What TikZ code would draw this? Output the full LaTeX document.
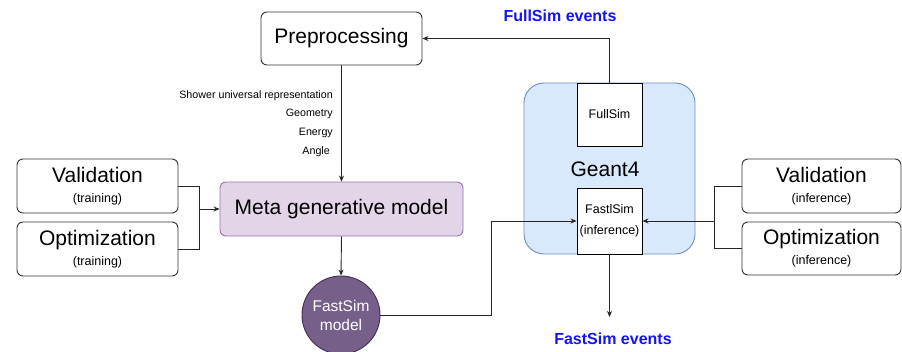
\documentclass[tikz,border=0pt]{standalone}
\usepackage{fontspec}
\setmainfont{Liberation Sans}
\usetikzlibrary{arrows.meta,calc}
\definecolor{metafill}{HTML}{E1D5E7}
\definecolor{metadraw}{HTML}{9673A6}
\definecolor{circfill}{HTML}{76608A}
\definecolor{circdraw}{HTML}{432D57}
\definecolor{gfill}{HTML}{DAE8FC}
\definecolor{gdraw}{HTML}{6C8EBF}
\definecolor{evblue}{HTML}{1414F0}
\newcommand{\bigtxt}{\fontsize{21}{24}\selectfont}
\newcommand{\subtxt}{\fontsize{12.5}{24}\selectfont}
\newcommand{\smtxt}{\fontsize{12.5}{21}\selectfont}
\newcommand{\lbltxt}{\fontsize{10.7}{12}\selectfont}
\newcommand{\evtxt}{\fontsize{16}{18}\selectfont\bfseries}
\begin{document}
\begin{tikzpicture}[x=1pt,y=-1pt,
  arr/.style={draw=black!85,line width=0.9pt,-{Stealth[length=6pt,width=5pt]}},
  ln/.style={draw=black!85,line width=0.9pt},
  rbox/.style={draw=black!80,line width=0.9pt,rounded corners=6pt,fill=white,inner sep=0pt,align=center},
  twol/.style={rbox,font=\bigtxt},
  sqbox/.style={draw=black,line width=0.9pt,fill=white,inner sep=0pt,align=center,font=\smtxt},
  lbl/.style={anchor=east,inner sep=0pt,font=\lbltxt},
  ev/.style={inner sep=0pt,text=evblue,font=\evtxt}
]
\useasboundingbox (0,0) rectangle (902,351);

% Geant4 container
\node[draw=gdraw,fill=gfill,line width=0.9pt,rounded corners=20pt,minimum width=171pt,minimum height=171pt,inner sep=0pt] (g4) at (609.5,168.5) {};
\node[inner sep=0pt,font=\bigtxt] (g4t) at (605,169) {Geant4};
\node[sqbox,minimum width=65pt,minimum height=63pt] (full) at (609.5,114.5) {FullSim};
\node[sqbox,minimum width=65pt,minimum height=66pt] (fast) at (609.5,221) {FastlSim\\(inference)};

% Main nodes
\node[rbox,minimum width=161pt,minimum height=53pt,font=\bigtxt] (pre) at (341.5,38.5) {Preprocessing};
\node[rbox,draw=metadraw,fill=metafill,minimum width=243pt,minimum height=54pt,font=\bigtxt] (meta) at (341.5,209) {Meta generative model};
\node[twol,minimum width=161pt,minimum height=54pt] (valt) at (97.5,186) {Validation\\[-4pt]{\subtxt (training)}};
\node[twol,minimum width=161pt,minimum height=54pt] (optt) at (97.5,249) {Optimization\\[-4pt]{\subtxt (training)}};
\node[twol,minimum width=159pt,minimum height=54pt] (vali) at (821.5,186) {Validation\\[-4pt]{\subtxt (inference)}};
\node[twol,minimum width=159pt,minimum height=53pt] (opti) at (821.5,248.5) {Optimization\\[-4pt]{\subtxt (inference)}};
\node[circle,draw=circdraw,fill=circfill,line width=0.9pt,minimum size=78pt,inner sep=0pt,text=white,align=center,font=\fontsize{15.5}{19}\selectfont] (fsm) at (341,315) {FastSim\\model};

% labels
\node[lbl] (l1) at (333,96) {Shower universal representation};
\node[lbl] (l2) at (333,114) {Geometry};
\node[lbl] (l3) at (333,133) {Energy};
\node[lbl] (l4) at (330,152) {Angle};
\node[ev] (fev) at (560,16) {FullSim events};
\node[ev] (sev) at (613,339) {FastSim events};

% connectors
\draw[arr] (full.north) |- (pre.east);
\draw[arr] (pre.south) -- (meta.north);
\coordinate (jl) at (199,209);
\draw[ln] (valt.east) -| (jl);
\draw[ln] (optt.east) -| (jl);
\draw[arr] (jl) -- (meta.west);
\draw[arr] (meta.south) -- (fsm.north);
\coordinate (jb) at (491,315);
\draw[arr] (fsm.east) -- (jb) |- (fast.west);
\coordinate (jr) at (714,221);
\draw[ln] (vali.west) -| (jr);
\draw[ln] (opti.west) -| (jr);
\draw[arr] (jr) -- (fast.east);
\coordinate (fe) at (609.5,317);
\draw[arr] (fast.south) -- (fe);
\end{tikzpicture}
\end{document}
